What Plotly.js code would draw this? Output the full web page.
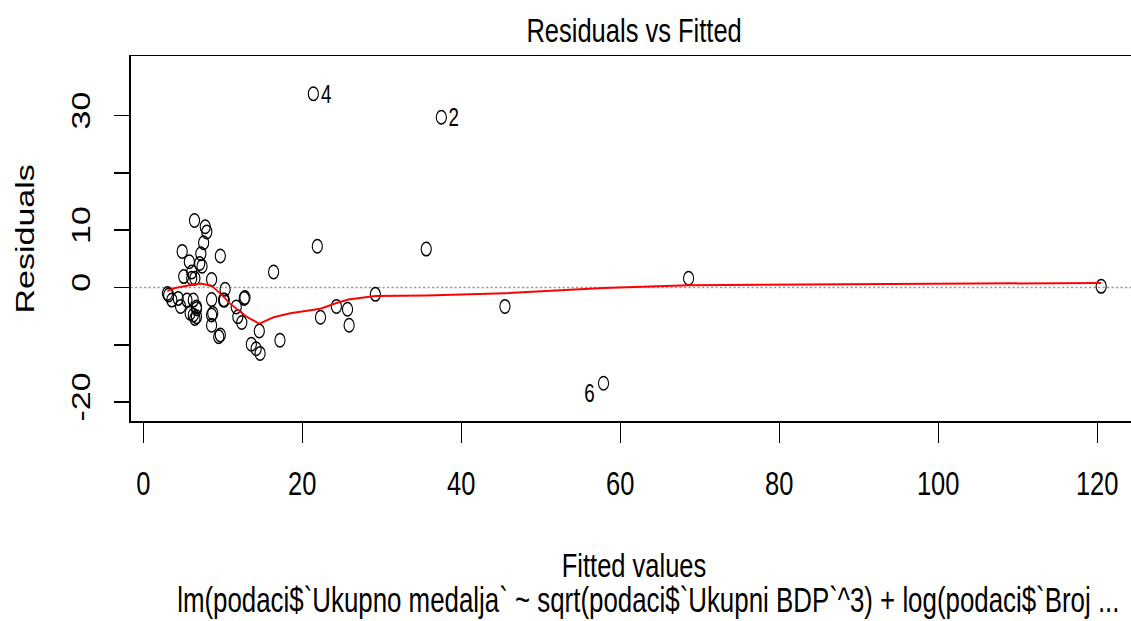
<!DOCTYPE html>
<html>
<head>
<meta charset="utf-8">
<script src="https://cdn.plot.ly/plotly-3.0.1.min.js"></script>
<style>
html,body{margin:0;padding:0;background:#fff;overflow:hidden;width:1131px;height:621px}
#wrap{width:1131px;height:621px;overflow:hidden;position:relative}
#chart{width:1531px;height:621px;transform:scaleX(0.75);transform-origin:0 0}
</style>
</head>
<body>
<div id="wrap"><div id="chart"></div></div>
<script>
// Fitted values and residuals
const fitted = [21.4, 37.5, 57.9, 68.6, 120.5, 35.6, 45.5, 29.2, 25.9, 25.7, 24.3, 21.9, 22.3, 16.4, 17.2,
  14.6, 13.6, 14.2, 14.7, 12.7, 12.4, 11.9, 11.7, 10.3, 10.1, 9.7,
  6.45, 7.8, 8.0, 7.6, 7.25, 9.7, 4.9, 5.8, 7.1, 7.4, 5.1, 6.1, 6.5, 8.6,
  3.05, 3.6, 4.4, 4.7, 6.3, 6.7, 5.9, 6.3, 6.7, 8.6, 8.75, 8.6, 9.5, 10.2, 12.8,
  5.5, 6.5, 6.7, 6.1, 8.6, 3.2];
const residuals = [33.8, 29.7, -16.7, 1.6, 0.2, 6.7, -3.3, -1.2, -6.6, -3.8, -3.3, 7.2, -5.2, 2.7, -9.2,
  -7.6, -9.9, -10.7, -11.5, -1.9, -6.1, -5.1, -3.4, -0.3, -2.2, -8.3,
  11.7, 10.6, 9.7, 7.8, 5.9, 5.5, 6.3, 4.5, 4.2, 3.7, 1.9, 2.7, 1.6, 1.4,
  -1.05, -2.2, -1.9, -3.3, -2.2, -3.4, -4.5, -4.8, -5.1, -2.1, -4.5, -6.6, -8.6, -2.2, -1.75,
  -2.2, -5.4, -3.7, 1.6, -4.8, -1.3];
// Labelled observations (index into the arrays above) and their labels
const idIndex = [0, 1, 2];
const idLabels = ['4', '2', '6'];
// Smoothed (lowess) line
const lowessX = [3.05, 4.0, 5.5, 7.2, 8.6, 9.9, 10.9, 12.2, 13.0, 14.6, 15.7, 16.4, 18.5, 20.6, 22.3, 24.3, 25.8, 29.2, 35.6, 45.5, 57.9, 68.6, 120.5];
const lowessY = [-0.6, -0.1, 0.3, 0.7, 0.3, -1.3, -2.8, -4.2, -5.1, -6.3, -5.6, -5.2, -4.5, -4.1, -3.7, -2.7, -2.1, -1.5, -1.4, -1.0, -0.1, 0.4, 0.8];
// Tick labels
const xTicks = [0, 20, 40, 60, 80, 100, 120];
const yTicks = [-20, -10, 0, 10, 20, 30];
const yTickText = ['-20', '', '0', '10', '', '30'];

const FONT = 'Liberation Sans, Arial, sans-serif';
const FS = 34;

const traces = [
  {x: fitted, y: residuals, type: 'scatter', mode: 'markers',
   marker: {symbol: 'circle-open', size: 13.5, color: '#000', line: {width: 1.5, color: '#000'}},
   hoverinfo: 'skip'},
  {x: lowessX, y: lowessY, type: 'scatter', mode: 'lines',
   line: {color: '#ff0000', width: 2}, hoverinfo: 'skip'}
];

const annotations = idIndex.map((i, k) => {
  const left = k === 2;
  return {x: fitted[i], y: residuals[i], xref: 'x', yref: 'y', text: idLabels[k], showarrow: false,
    xanchor: left ? 'right' : 'left', yanchor: 'middle', xshift: left ? -10 : 8, yshift: left ? -10 : 0,
    font: {family: FONT, size: 25, color: '#000'}};
});
annotations.push({x: 0.514, xref: 'paper', y: -0.49, yref: 'paper', yanchor: 'middle', showarrow: false,
  text: 'lm(podaci$`Ukupno medalja` ~ sqrt(podaci$`Ukupni BDP`^3) + log(podaci$`Broj ...',
  font: {family: FONT, size: 34.5, color: '#000'}});
annotations.push({x: -0.105, xref: 'paper', y: 0.5, yref: 'paper', textangle: -90, showarrow: false,
  xanchor: 'center', yanchor: 'middle', text: 'Residuals', font: {family: FONT, size: FS, color: '#000'}});
annotations.push({x: 0.5, xref: 'paper', y: -0.395, yref: 'paper', yanchor: 'middle', showarrow: false,
  text: 'Fitted values', font: {family: FONT, size: FS, color: '#000'}});

const layout = {
  width: 1531, height: 621,
  margin: {l: 174, r: 14, t: 56, b: 200},
  paper_bgcolor: '#fff', plot_bgcolor: '#fff',
  showlegend: false,
  font: {family: FONT, size: FS, color: '#000'},
  title: {text: 'Residuals vs Fitted', x: 0.5, xref: 'paper', xanchor: 'center',
          y: 1 - 30 / 621, yref: 'container', yanchor: 'middle',
          font: {family: FONT, size: 34, color: '#000'}},
  xaxis: {range: [-1.6, 125.1], showgrid: false, zeroline: false,
          showline: true, mirror: true, linecolor: '#000', linewidth: 1.5,
          ticks: 'outside', ticklen: 20, tickwidth: 1.5, tickcolor: '#000',
          tickvals: xTicks, ticktext: xTicks.map(String), ticklabelstandoff: 12,
          tickfont: {family: FONT, size: FS, color: '#000'}},
  yaxis: {range: [-23.3, 40.4], showgrid: false, zeroline: false,
          showline: true, mirror: true, linecolor: '#000', linewidth: 1.5,
          ticks: 'outside', ticklen: 21, tickwidth: 1.5, tickcolor: '#000',
          tickvals: yTicks, ticktext: yTickText, tickangle: -90, ticklabelstandoff: 18,
          tickfont: {family: FONT, size: FS, color: '#000'}},
  shapes: [{type: 'line', xref: 'paper', x0: 0, x1: 1, yref: 'y', y0: 0, y1: 0, layer: 'below',
            line: {color: '#9a9a9a', width: 1.6, dash: 'dot'}}],
  annotations: annotations
};

Plotly.newPlot('chart', traces, layout, {staticPlot: true, displayModeBar: false});
</script>
</body>
</html>
